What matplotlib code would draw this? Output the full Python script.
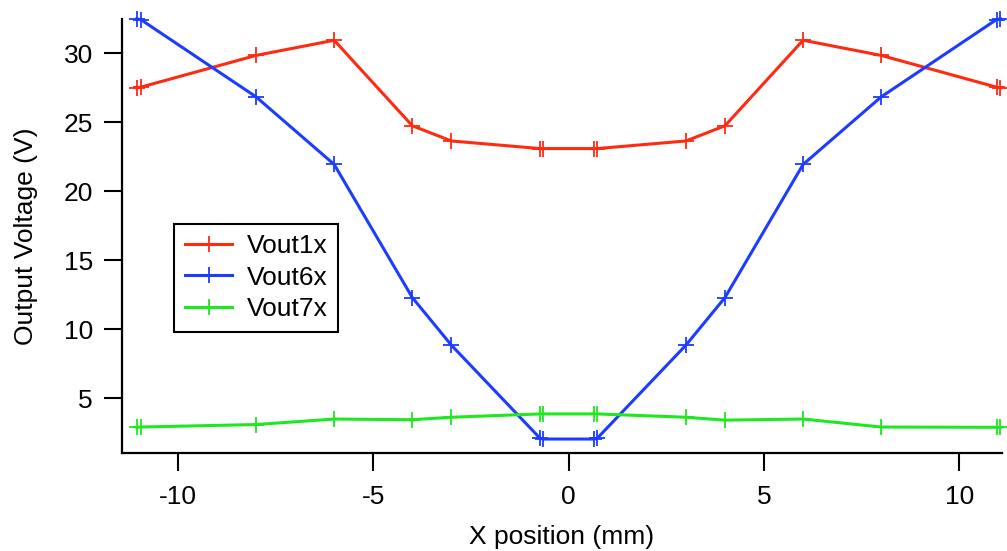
import matplotlib
matplotlib.use("Agg")
import matplotlib.pyplot as plt

plt.rcParams['font.family'] = ['Liberation Sans', 'DejaVu Sans']
plt.rcParams['axes.unicode_minus'] = False

x_mm = [-11.05, -10.95, -8, -6, -4, -3, -0.73, -0.65, 0.65, 0.73, 3, 4, 6, 8, 10.95, 11.05]
vout1x = [27.5, 27.55, 29.85, 30.95, 24.75, 23.65, 23.1, 23.1, 23.1, 23.1, 23.65, 24.75, 30.95, 29.85, 27.55, 27.5]
vout6x = [32.5, 32.45, 26.85, 21.95, 12.3, 8.85, 2.1, 2.05, 2.05, 2.1, 8.85, 12.3, 21.95, 26.85, 32.45, 32.5]
vout7x = [2.9, 2.92, 3.1, 3.5, 3.45, 3.63, 3.87, 3.87, 3.87, 3.87, 3.63, 3.42, 3.5, 2.92, 2.9, 2.9]

series = [("Vout1x", vout1x, "#ff2a10"),
          ("Vout6x", vout6x, "#1c3cff"),
          ("Vout7x", vout7x, "#1ee81e")]

xticks = [-10, -5, 0, 5, 10]
yticks = [5, 10, 15, 20, 25, 30]

fig = plt.figure(figsize=(10.07, 5.51), dpi=100)
ax = fig.add_axes([122/1007, (551-452.7)/551, (1002-122)/1007, (452.7-19)/551])

for name, vals, col in series:
    ax.plot(x_mm, vals, color=col, lw=2.2, marker='+', ms=11, mew=1.3,
            label=name, clip_on=False)

ax.set_xlim(-11.43, 11.09)
ax.set_ylim(1.06, 32.49)
ax.set_xticks(xticks)
ax.set_yticks(yticks)
ax.set_xticklabels([str(t) for t in xticks])
ax.set_yticklabels([str(t) for t in yticks])

for s in ['top', 'right']:
    ax.spines[s].set_visible(False)
for s in ['left', 'bottom']:
    ax.spines[s].set_linewidth(1.6)

ax.tick_params(axis='both', direction='out', length=13, width=1.5,
               labelsize=19)
ax.tick_params(axis='x', pad=10)
ax.tick_params(axis='y', pad=8)

ax.set_xlabel("X position (mm)", fontsize=19, labelpad=12)
ax.set_ylabel("Output Voltage (V)", fontsize=19, labelpad=18)

leg = ax.legend(loc='upper left', bbox_to_anchor=(0.0594, 0.528),
                borderaxespad=0, fontsize=19, frameon=True, fancybox=False,
                handlelength=1.8, handletextpad=0.55, labelspacing=0.28,
                borderpad=0.4)
leg.get_frame().set_edgecolor('black')
leg.get_frame().set_linewidth(1.5)
leg.get_frame().set_alpha(1)

fig.savefig("out.png", dpi=100)
